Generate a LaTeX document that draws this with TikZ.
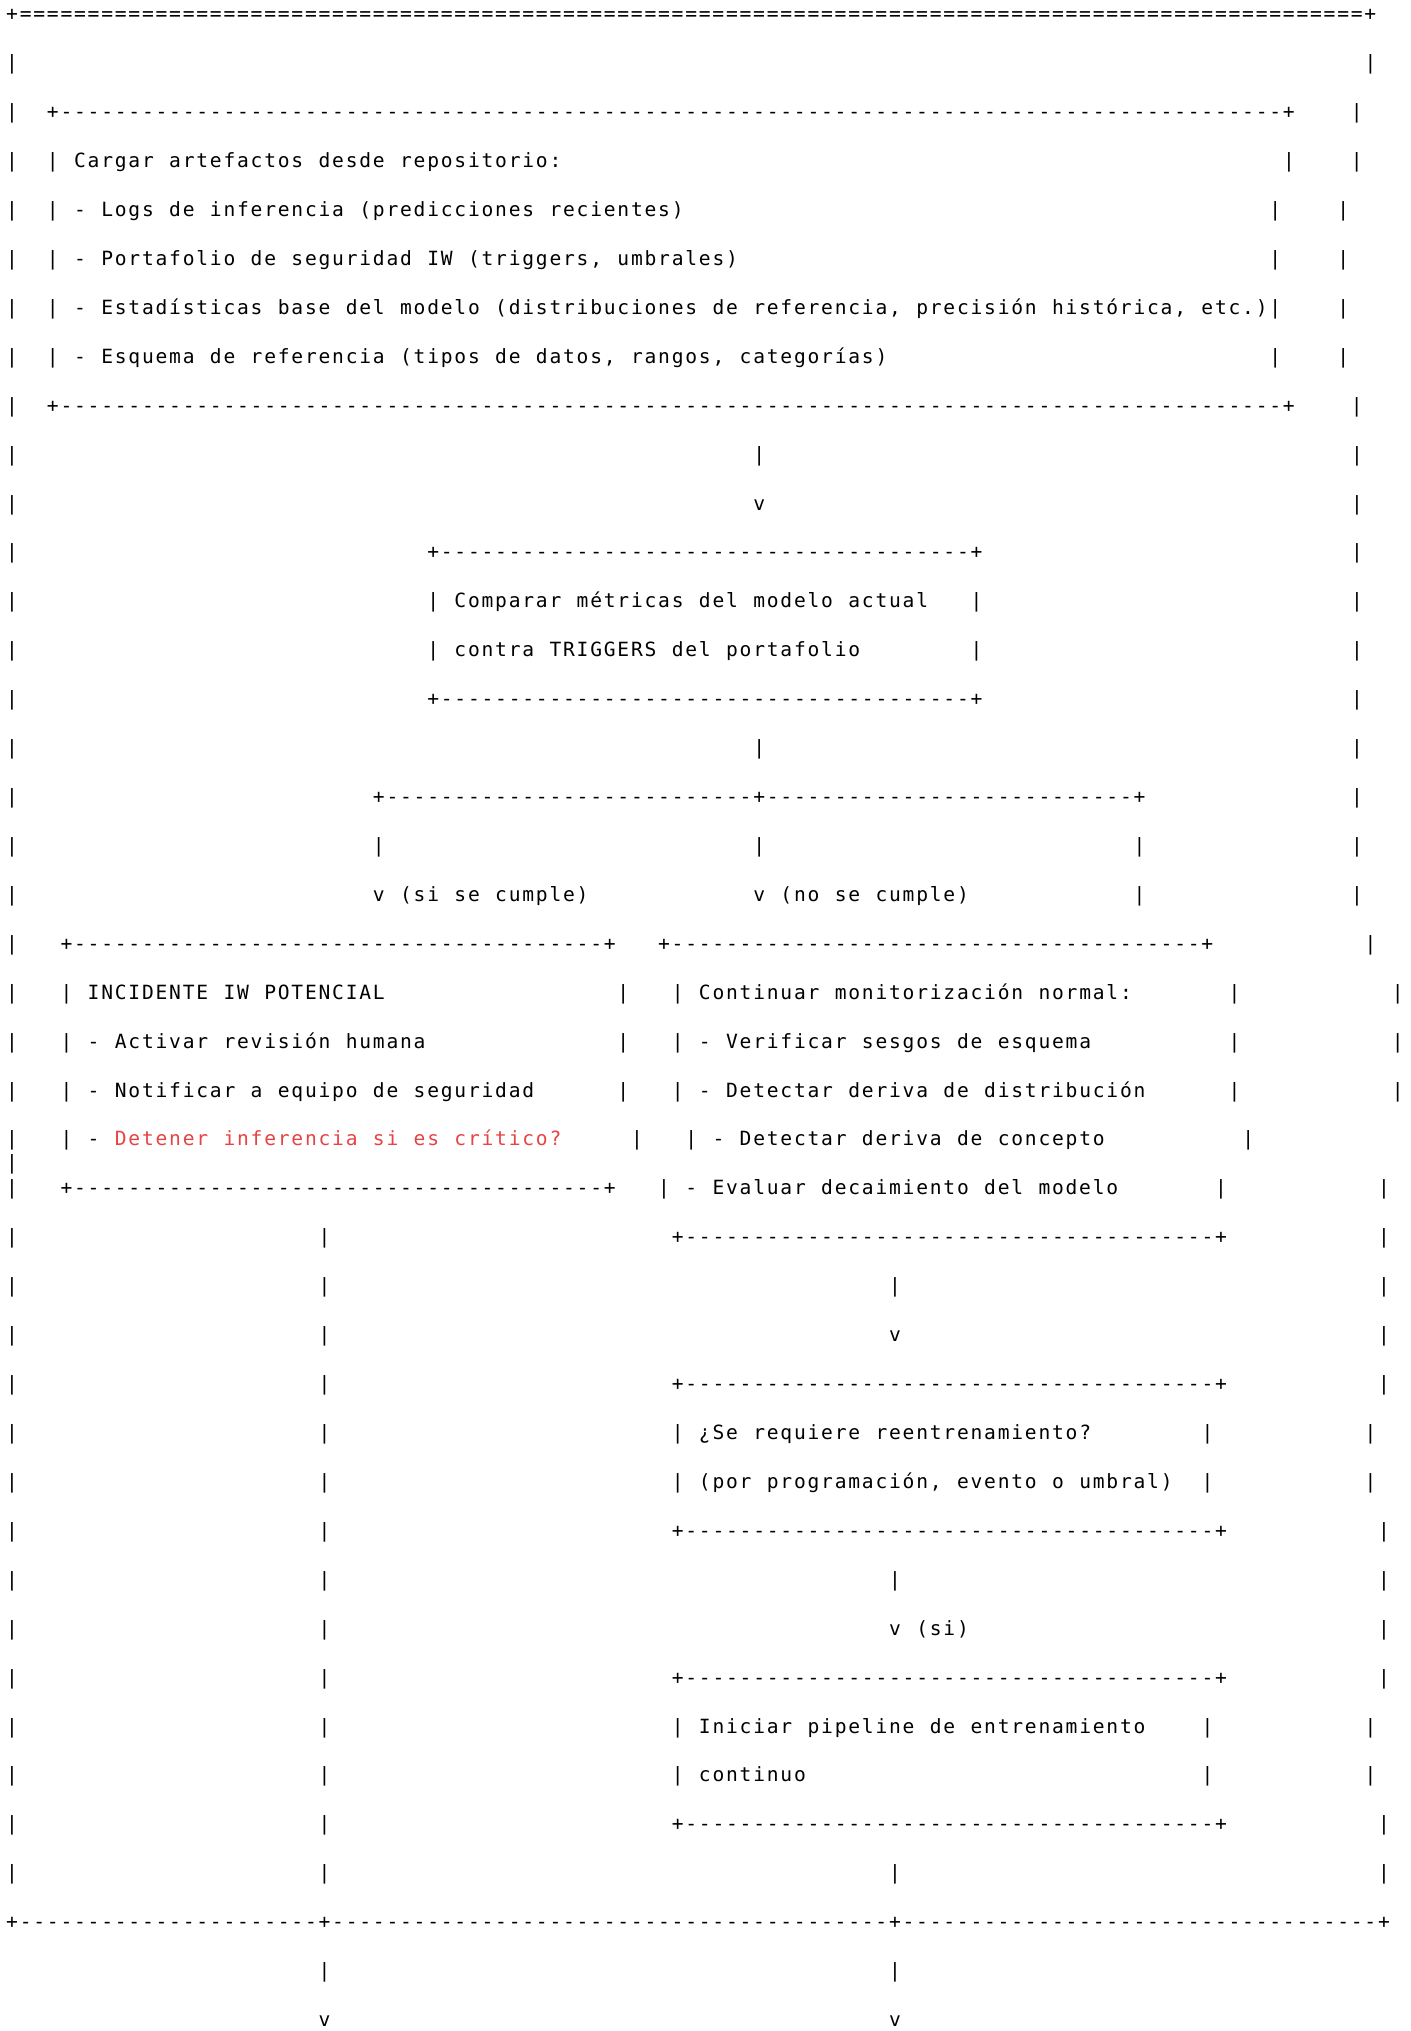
\documentclass[tikz,border=0pt]{standalone}
\usepackage{fontspec}
\usepackage{xcolor}
\usepackage{tikz}
\newfontfamily\ascfont{DejaVu Sans Mono}
\definecolor{alert}{RGB}{230,68,68}
\newlength\ascpitch
\setlength\ascpitch{6.792pt}
\ExplSyntaxOn
\cs_new:Npn \ascgap #1 { \prg_replicate:nn {#1} {~} }
\cs_new:Npn \ascrule #1 { \prg_replicate:nn {#1} {-} }
\cs_new:Npn \ascdbl #1 { \prg_replicate:nn {#1} {=} }
\NewDocumentCommand \ascline { m }
  { \exp_args:Ne \str_map_inline:nn {#1} { \makebox[\ascpitch]{##1} } }
\ExplSyntaxOff
\tikzset{
  row/.style={anchor=base west, inner sep=0pt, outer sep=0pt,
              font=\ascfont\fontsize{9.8}{9.8}\selectfont, text=black}
}

\begin{document}
\begin{tikzpicture}[
  x=6.792pt, y=-24.46pt,
  warn/.style={row, text=alert}
]
\path[use as bounding box, fill=white] (-2.65pt,-14.06pt) rectangle (702.35pt,-1029.56pt);
\node[row] (row1) at (0,1) {\ascline{+\ascdbl{99}+}};
\node[row] (row2) at (0,2) {\ascline{|\ascgap{99}|}};
\node[row] (row3) at (0,3) {\ascline{|\ascgap{2}+\ascrule{90}+\ascgap{4}|}};
\node[row] (row4) at (0,4) {\ascline{|\ascgap{2}| Cargar artefactos desde repositorio:\ascgap{53}|\ascgap{4}|}};
\node[row] (row5) at (0,5) {\ascline{|\ascgap{2}| - Logs de inferencia (predicciones recientes)\ascgap{43}|\ascgap{4}|}};
\node[row] (row6) at (0,6) {\ascline{|\ascgap{2}| - Portafolio de seguridad IW (triggers, umbrales)\ascgap{39}|\ascgap{4}|}};
\node[row] (row7) at (0,7) {\ascline{|\ascgap{2}| - Estadísticas base del modelo (distribuciones de referencia, precisión histórica, etc.)|\ascgap{4}|}};
\node[row] (row8) at (0,8) {\ascline{|\ascgap{2}| - Esquema de referencia (tipos de datos, rangos, categorías)\ascgap{28}|\ascgap{4}|}};
\node[row] (row9) at (0,9) {\ascline{|\ascgap{2}+\ascrule{90}+\ascgap{4}|}};
\node[row] (row10) at (0,10) {\ascline{|\ascgap{54}|\ascgap{43}|}};
\node[row] (row11) at (0,11) {\ascline{|\ascgap{54}v\ascgap{43}|}};
\node[row] (row12) at (0,12) {\ascline{|\ascgap{30}+\ascrule{39}+\ascgap{27}|}};
\node[row] (row13) at (0,13) {\ascline{|\ascgap{30}| Comparar métricas del modelo actual\ascgap{3}|\ascgap{27}|}};
\node[row] (row14) at (0,14) {\ascline{|\ascgap{30}| contra TRIGGERS del portafolio\ascgap{8}|\ascgap{27}|}};
\node[row] (row15) at (0,15) {\ascline{|\ascgap{30}+\ascrule{39}+\ascgap{27}|}};
\node[row] (row16) at (0,16) {\ascline{|\ascgap{54}|\ascgap{43}|}};
\node[row] (row17) at (0,17) {\ascline{|\ascgap{26}+\ascrule{27}+\ascrule{27}+\ascgap{15}|}};
\node[row] (row18) at (0,18) {\ascline{|\ascgap{26}|\ascgap{27}|\ascgap{27}|\ascgap{15}|}};
\node[row] (row19) at (0,19) {\ascline{|\ascgap{26}v (si se cumple)\ascgap{12}v (no se cumple)\ascgap{12}|\ascgap{15}|}};
\node[row] (row20) at (0,20) {\ascline{|\ascgap{3}+\ascrule{39}+\ascgap{3}+\ascrule{39}+\ascgap{11}|}};
\node[row] (row21) at (0,21) {\ascline{|\ascgap{3}| INCIDENTE IW POTENCIAL\ascgap{17}|\ascgap{3}| Continuar monitorización normal:\ascgap{7}|\ascgap{11}|}};
\node[row] (row22) at (0,22) {\ascline{|\ascgap{3}| - Activar revisión humana\ascgap{14}|\ascgap{3}| - Verificar sesgos de esquema\ascgap{10}|\ascgap{11}|}};
\node[row] (row23) at (0,23) {\ascline{|\ascgap{3}| - Notificar a equipo de seguridad\ascgap{6}|\ascgap{3}| - Detectar deriva de distribución\ascgap{6}|\ascgap{11}|}};
\node[row] (row24) at (0,24) {\ascline{|\ascgap{3}| -\ascgap{39}|\ascgap{3}| - Detectar deriva de concepto\ascgap{10}|}};
\node[warn] (stop) at (8,24) {\ascline{Detener inferencia si es crítico?}};
\node[row] (brk) at (0,24.48) {\ascline{|}};
\node[row] (row25) at (0,25) {\ascline{|\ascgap{3}+\ascrule{39}+\ascgap{3}| - Evaluar decaimiento del modelo\ascgap{7}|\ascgap{11}|}};
\node[row] (row26) at (0,26) {\ascline{|\ascgap{22}|\ascgap{25}+\ascrule{39}+\ascgap{11}|}};
\node[row] (row27) at (0,27) {\ascline{|\ascgap{22}|\ascgap{41}|\ascgap{35}|}};
\node[row] (row28) at (0,28) {\ascline{|\ascgap{22}|\ascgap{41}v\ascgap{35}|}};
\node[row] (row29) at (0,29) {\ascline{|\ascgap{22}|\ascgap{25}+\ascrule{39}+\ascgap{11}|}};
\node[row] (row30) at (0,30) {\ascline{|\ascgap{22}|\ascgap{25}| ¿Se requiere reentrenamiento?\ascgap{8}|\ascgap{11}|}};
\node[row] (row31) at (0,31) {\ascline{|\ascgap{22}|\ascgap{25}| (por programación, evento o umbral)\ascgap{2}|\ascgap{11}|}};
\node[row] (row32) at (0,32) {\ascline{|\ascgap{22}|\ascgap{25}+\ascrule{39}+\ascgap{11}|}};
\node[row] (row33) at (0,33) {\ascline{|\ascgap{22}|\ascgap{41}|\ascgap{35}|}};
\node[row] (row34) at (0,34) {\ascline{|\ascgap{22}|\ascgap{41}v (si)\ascgap{30}|}};
\node[row] (row35) at (0,35) {\ascline{|\ascgap{22}|\ascgap{25}+\ascrule{39}+\ascgap{11}|}};
\node[row] (row36) at (0,36) {\ascline{|\ascgap{22}|\ascgap{25}| Iniciar pipeline de entrenamiento\ascgap{4}|\ascgap{11}|}};
\node[row] (row37) at (0,37) {\ascline{|\ascgap{22}|\ascgap{25}| continuo\ascgap{29}|\ascgap{11}|}};
\node[row] (row38) at (0,38) {\ascline{|\ascgap{22}|\ascgap{25}+\ascrule{39}+\ascgap{11}|}};
\node[row] (row39) at (0,39) {\ascline{|\ascgap{22}|\ascgap{41}|\ascgap{35}|}};
\node[row] (row40) at (0,40) {\ascline{+\ascrule{22}+\ascrule{41}+\ascrule{35}+}};
\node[row] (row41) at (0,41) {\ascline{\ascgap{23}|\ascgap{41}|}};
\node[row] (row42) at (0,42) {\ascline{\ascgap{23}v\ascgap{41}v}};
\end{tikzpicture}
\end{document}
